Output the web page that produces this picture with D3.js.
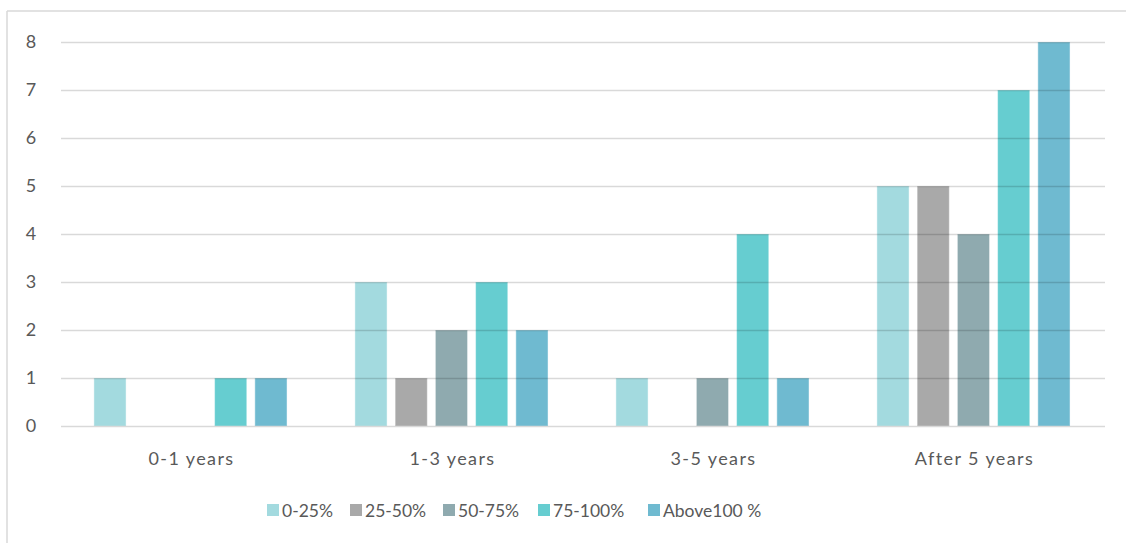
<!DOCTYPE html>
<html>
<head>
<meta charset="utf-8">
<script src="https://cdn.jsdelivr.net/npm/d3@7"></script>
<style>
  html, body { margin: 0; padding: 0; background: #fff; }
  svg { display: block; }
  text { font-family: Lato, "Open Sans", sans-serif; fill: #595959; }
</style>
</head>
<body>
<svg id="chart" width="1126" height="543"></svg>
<script>
// Tenure groups along the x axis
const categories = ["0-1 years", "1-3 years", "3-5 years", "After 5 years"];
// Achievement ranges, one bar each per group
const seriesNames = ["0-25%", "25-50%", "50-75%", "75-100%", "Above100 %"];
const seriesColors = ["#a3dadf", "#a9a9a9", "#8faaaf", "#66cdd0", "#6fbad0"];
// Counts per series, in the order of categories
const s0to25 = [1, 3, 1, 5];
const s25to50 = [0, 1, 0, 5];
const s50to75 = [0, 2, 1, 4];
const s75to100 = [1, 3, 4, 7];
const sAbove100 = [1, 2, 1, 8];
const yTicks = [0, 1, 2, 3, 4, 5, 6, 7, 8];

const seriesValues = [s0to25, s25to50, s50to75, s75to100, sAbove100];

const svg = d3.select("#chart");
const W = 1126, H = 543;

// Outer frame (top and left edges visible)
svg.append("line").attr("x1", 7).attr("x2", W).attr("y1", 11).attr("y2", 11)
  .attr("stroke", "#d9d9d9").attr("stroke-width", 1.5);
svg.append("line").attr("x1", 7).attr("x2", 7).attr("y1", 11).attr("y2", H)
  .attr("stroke", "#d9d9d9").attr("stroke-width", 1.5);

const x0 = d3.scaleBand().domain(categories).range([61, 1105]).padding(0);
const bw = x0.bandwidth();
const x1 = d3.scaleBand().domain(seriesNames)
  .range([bw * 0.126, bw * 0.866]).paddingInner(0.2).paddingOuter(0);
const y = d3.scaleLinear().domain([0, 8]).range([426, 42]);

const color = d3.scaleOrdinal().domain(seriesNames).range(seriesColors);

// Bars
const rows = categories.map((c, i) => ({
  cat: c,
  vals: seriesNames.map((s, j) => ({ s, v: seriesValues[j][i] }))
}));

const groups = svg.append("g").selectAll("g").data(rows).join("g")
  .attr("transform", d => `translate(${x0(d.cat)},0)`);

groups.selectAll("rect").data(d => d.vals.filter(e => e.v > 0)).join("rect")
  .attr("x", d => x1(d.s))
  .attr("width", x1.bandwidth())
  .attr("y", d => y(d.v))
  .attr("height", d => y(0) - y(d.v))
  .attr("fill", d => color(d.s))
  .attr("stroke", "rgba(255,255,255,0.45)")
  .attr("stroke-width", 1);

// Gridlines drawn over the bars, darkening them where they cross
const grid = svg.append("g")
  .call(d3.axisLeft(y).tickValues(yTicks).tickSize(-(1105 - 61)).tickFormat(""))
  .attr("transform", "translate(61,0)");
grid.select(".domain").remove();
grid.selectAll(".tick line").attr("stroke", "#000").attr("stroke-opacity", 0.15).attr("stroke-width", 1.5);

// Y tick labels
const yAxis = svg.append("g").attr("transform", "translate(37,0)")
  .call(d3.axisLeft(y).tickValues(yTicks).tickSize(0).tickPadding(0).tickFormat(d3.format("d")));
yAxis.select(".domain").remove();
yAxis.selectAll("text").attr("x", -6).attr("text-anchor", "middle")
  .style("font-size", "18px").style("font-family", "Lato, 'Open Sans', sans-serif").attr("fill", "#595959");

// Category labels
const xAxis = svg.append("g").attr("transform", "translate(0,426)")
  .call(d3.axisBottom(x0).tickSize(0).tickPadding(0));
xAxis.select(".domain").remove();
xAxis.selectAll("text").attr("y", 39).attr("dy", 0)
  .style("font-size", "18px").style("letter-spacing", "1.4px")
  .style("font-family", "Lato, 'Open Sans', sans-serif").attr("fill", "#595959");

// Legend
const legendX = [267, 350, 443, 538, 648];
const legend = svg.append("g").selectAll("g").data(seriesNames).join("g")
  .attr("transform", (d, i) => `translate(${legendX[i]},504)`);
legend.append("rect").attr("width", 12).attr("height", 12).attr("fill", d => color(d));
legend.append("text").attr("x", 15).attr("y", 12.5).text(d => d)
  .style("font-size", "17.5px");
</script>
</body>
</html>
